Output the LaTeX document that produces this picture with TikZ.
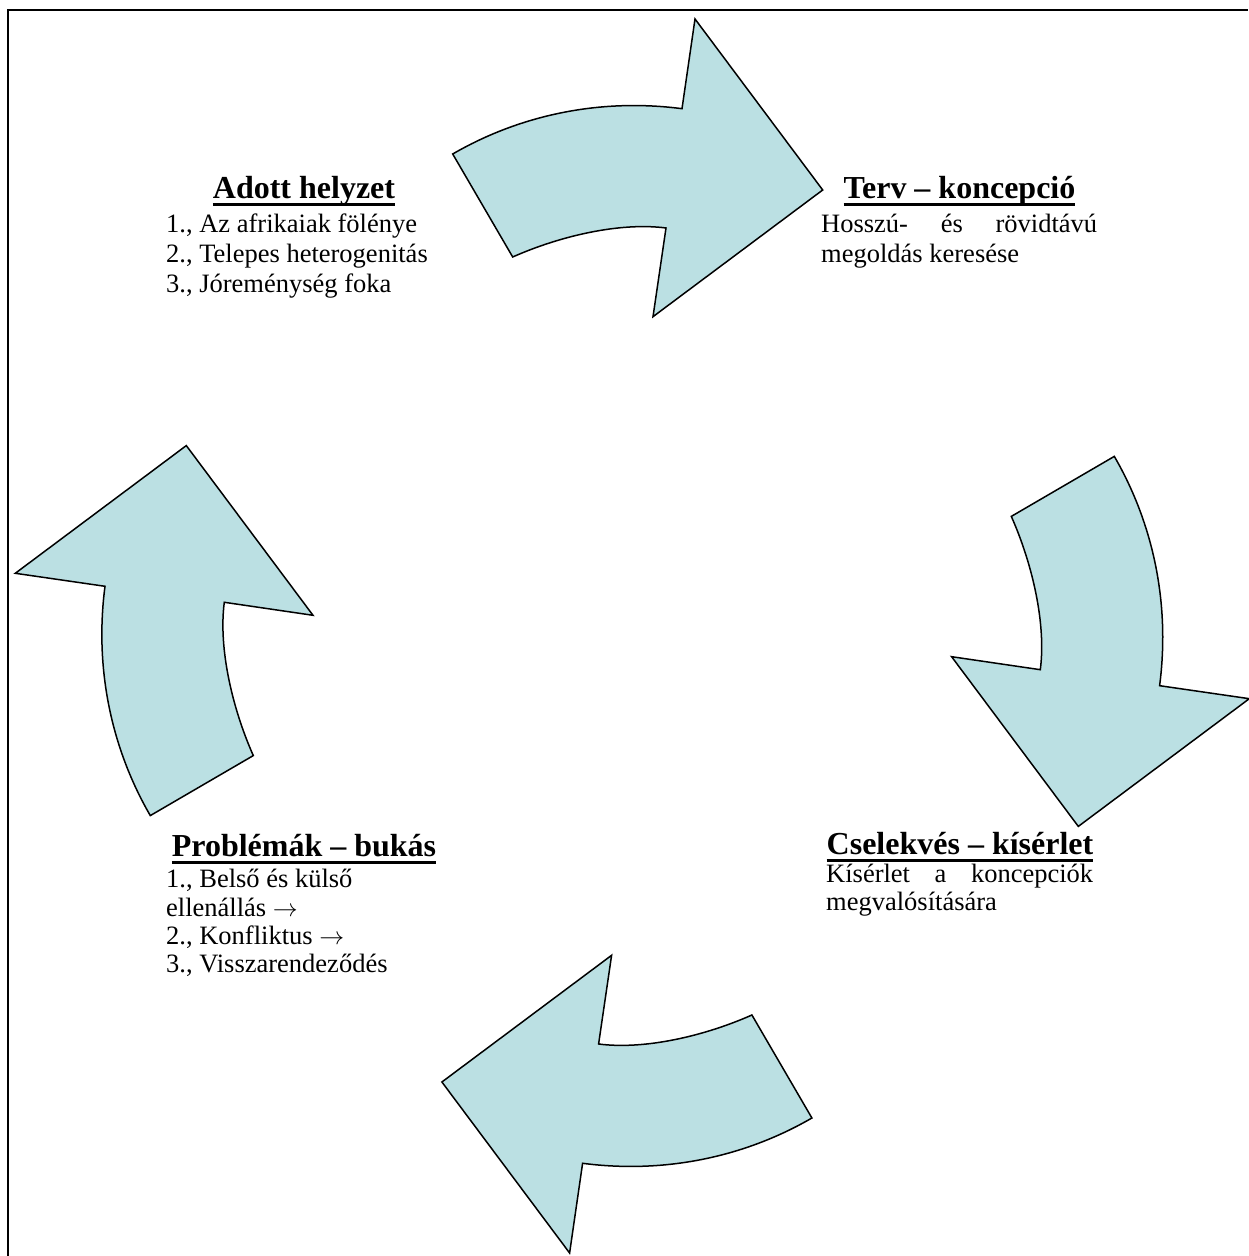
\documentclass[tikz,border=0pt]{standalone}
\usepackage{fontspec}
\setmainfont{Liberation Serif}
\definecolor{arrowfill}{RGB}{187,224,227}
\newcommand\myul[1]{\setbox0\hbox{#1}\rlap{\rule[-7pt]{\wd0}{2.5pt}}\box0}
\newcommand\myarr{\ensuremath{\rightarrow}}
\begin{document}
\begin{tikzpicture}[x=1pt,y=1pt,
  arrowshape/.style={fill=arrowfill, draw=black, line width=1.5pt, line join=miter},
  frame/.style={line width=2pt},
  title/.style={font=\fontsize{32}{36}\selectfont\bfseries, inner sep=0pt, anchor=base},
  body/.style={font=\fontsize{26.5}{30}\selectfont, inner sep=0pt, anchor=base west}]
\useasboundingbox (0,0) rectangle (1248,1256);
\draw[frame] (7.5,0) -- (7.5,1245.5) -- (1248,1245.5);
\foreach \a in {0,-90,-180,-270}{
  \begin{scope}[rotate around={\a:(632.3,620)}]
    \draw[arrowshape] (452.7,1102) .. controls (520,1141) and (600,1158) .. (682,1147.3)
      -- (695,1237) -- (822.7,1066) -- (653,939.3) -- (666,1028)
      .. controls (620,1034) and (560,1020) .. (512.7,999) -- cycle;
  \end{scope}
}
% Adott helyzet
\node[title] (adottT) at (304,1057) {\myul{Adott helyzet}};
\node[body] (adott1) at (166,1023) {1., Az afrikaiak fölénye};
\node[body] (adott2) at (166,993) {2., Telepes heterogenitás};
\node[body] (adott3) at (166,963) {3., Jóreménység foka};
% Terv
\node[title] (tervT) at (959.5,1057) {\myul{Terv – koncepció}};
\node[body] (terv1) at (821,1023) {\makebox[276pt][s]{Hosszú- és rövidtávú}};
\node[body] (terv2) at (821,993) {megoldás keresése};
% Cselekves
\node[title] (cselT) at (960,401) {\myul{Cselekvés – kísérlet}};
\node[body] (csel1) at (826,373) {\makebox[267pt][s]{Kísérlet a koncepciók}};
\node[body] (csel2) at (826,345) {megvalósítására};
% Problemak
\node[title] (probT) at (304,399) {\myul{Problémák – bukás}};
\node[body] (prob1) at (166,368) {1., Belső és külső};
\node[body] (prob2) at (166,339) {ellenállás \myarr};
\node[body] (prob3) at (166,311) {2., Konfliktus \myarr};
\node[body] (prob4) at (166,283) {3., Visszarendeződés};
\end{tikzpicture}
\end{document}
